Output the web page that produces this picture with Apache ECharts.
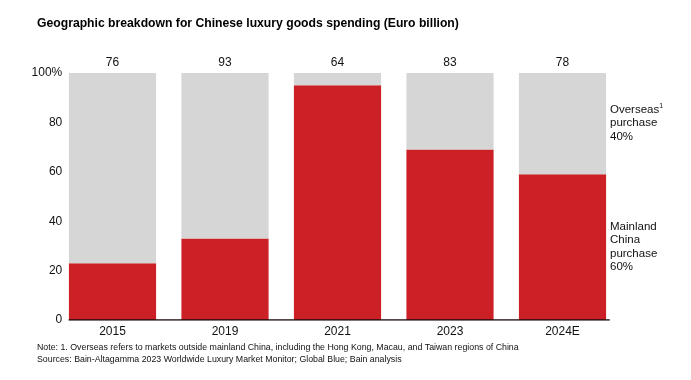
<!DOCTYPE html>
<html><head><meta charset="utf-8">
<script src="https://cdn.jsdelivr.net/npm/echarts@6/dist/echarts.min.js"></script>
<style>html,body{margin:0;padding:0;background:#fff}#c{width:691px;height:380px}</style>
</head><body><div id="c"></div>
<script>
const years = ['2015', '2019', '2021', '2023', '2024E'];
const mainland = [23, 33, 95, 69, 59];
const overseas = [77, 67, 5, 31, 41];
const totals = [76, 93, 64, 83, 78];
const yTicks = [0, 20, 40, 60, 80, 100];
// baseline extent, in category units (index), from left edge of first bar to right edge of last
const baseline = [[-0.39, 0], [4.42, 0]];

const F = 'Liberation Sans, Arial, Helvetica, sans-serif';
const chart = echarts.init(document.getElementById('c'), null, {renderer: 'canvas'});
chart.setOption({
  animation: false,
  textStyle: {fontFamily: F},
  grid: {left: 56.25, right: 72.25, top: 73, bottom: 60, containLabel: false},
  xAxis: [{
    type: 'category', data: years,
    axisLine: {show: false},
    axisTick: {show: false},
    axisLabel: {color: '#111', fontSize: 12, fontFamily: F, margin: 6}
  }, {
    type: 'value', min: -0.5, max: 4.5, show: false
  }],
  yAxis: {
    type: 'value', min: 0, max: 100, interval: 20,
    splitLine: {show: false}, axisLine: {show: false}, axisTick: {show: false},
    axisLabel: {color: '#111', fontSize: 12, fontFamily: F, margin: -6,
      formatter: v => v === 100 ? '100%' : String(v)}
  },
  series: [
    {type: 'bar', stack: 's', data: mainland, barCategoryGap: '22.5%',
     itemStyle: {color: '#cc2027'}},
    {type: 'bar', stack: 's', data: overseas,
     itemStyle: {color: '#d6d6d6'},
     label: {show: true, position: 'top', distance: 4, color: '#111', fontSize: 12, fontFamily: F,
       formatter: p => String(totals[p.dataIndex])}},
    {type: 'line', xAxisIndex: 1, data: baseline, symbol: 'none', silent: true,
     lineStyle: {color: '#1a0a0a', width: 1.3}, z: 5}
  ],
  graphic: [
    {type: 'text', left: 37, top: 18, style: {text: 'Geographic breakdown for Chinese luxury goods spending (Euro billion)',
      font: 'bold 12.2px ' + F, fill: '#000'}},
    {type: 'text', left: 610, top: 103, style: {
      rich: {a: {font: '11.5px ' + F, fill: '#111', lineHeight: 13.5}, s: {font: '7px ' + F, fill: '#111', verticalAlign: 'top', padding: [0,0,6,0]}},
      text: '{a|Overseas}{s|1}\n{a|purchase}\n{a|40%}'}},
    {type: 'text', left: 610, top: 220, style: {text: 'Mainland\nChina\npurchase\n60%',
      font: '11.5px ' + F, fill: '#111', lineHeight: 13.5}},
    {type: 'text', left: 37, top: 341, style: {text: 'Note: 1. Overseas refers to markets outside mainland China, including the Hong Kong, Macau, and Taiwan regions of China\nSources: Bain-Altagamma 2023 Worldwide Luxury Market Monitor; Global Blue; Bain analysis',
      font: '8.8px ' + F, fill: '#111', lineHeight: 12.5}}
  ]
});
</script></body></html>
